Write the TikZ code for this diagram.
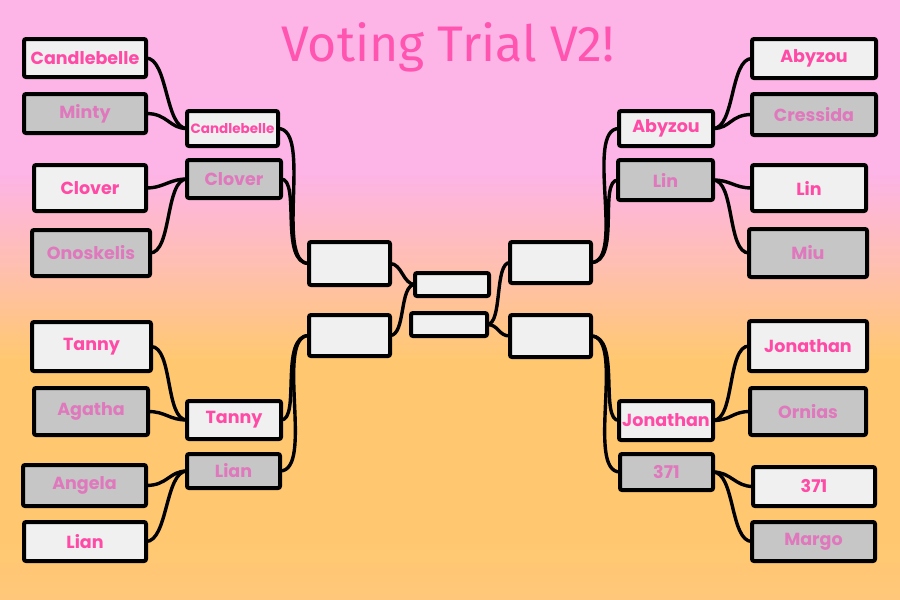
\documentclass[tikz,border=0pt]{standalone}
\usepackage{fontspec}
\setmainfont{Poppins}
\newfontfamily\titlefont{Fira Sans}
\definecolor{bgtop}{HTML}{FDB4E6}
\definecolor{bgmid}{HTML}{FFBFB0}
\definecolor{bgbot}{HTML}{FFC870}
\definecolor{winfill}{HTML}{F0F0F0}
\definecolor{losefill}{HTML}{C6C6C6}
\definecolor{wintext}{HTML}{FF4AA6}
\definecolor{losetext}{HTML}{DF78BC}
\definecolor{titlecol}{HTML}{FF55B0}
\begin{document}
\begin{tikzpicture}[x=1pt,y=-1pt,
  boxbase/.style={draw=black, line width=4pt, rounded corners=2pt, inner sep=0pt, outer sep=0pt, font=\bfseries\fontsize{17.5}{17.5}\selectfont},
  wbox/.style={boxbase, fill=winfill, text=wintext},
  lbox/.style={boxbase, fill=losefill, text=losetext},
  ebox/.style={boxbase, fill=winfill},
  small/.style={font=\bfseries\fontsize{13.5}{13.5}\selectfont},
  link/.style={draw=black, line width=3.4pt, line cap=round, line join=round},
  sz/.style n args={2}{minimum width=#1pt, minimum height=#2pt}
]
\useasboundingbox (0,0) rectangle (900,600);
\fill[bgtop] (0,0) rectangle (900,175);
\shade[top color=bgtop, bottom color=bgbot, middle color=bgmid] (0,174) rectangle (900,360);
\fill[bgbot] (0,359) rectangle (900,600);
\shade[top color=bgbot, bottom color=bgbot!85!bgmid] (0,540) rectangle (900,600);

\node[text=titlecol, draw=titlecol!85!black, line width=0.1pt, font=\titlefont\fontsize{50}{50}\selectfont, anchor=base, draw=none] (title) at (448,61) {Voting Trial V2!};

% left top
\node[wbox, sz={122}{38}] (c1) at (85,58) {Candlebelle};
\node[lbox, sz={122}{39}] (m1) at (85,113.5) {Minty};
\node[wbox, sz={112}{46}] (cl1) at (90,188) {Clover};
\node[lbox, sz={118}{46}] (on1) at (91,253) {Onoskelis};
\node[wbox, small, sz={91}{35}] (c2) at (232.5,128.5) {Candlebelle};
\node[lbox, sz={94}{38}] (cl2) at (234,179) {Clover};
% left bottom
\node[wbox, sz={119}{49}] (t1) at (91.5,346.5) {Tanny};
\node[lbox, sz={114}{47}] (ag1) at (91,411.5) {Agatha};
\node[lbox, sz={123}{41}] (an1) at (84.5,485.5) {Angela};
\node[wbox, sz={122}{39}] (li1) at (85,541.5) {Lian};
\node[wbox, sz={94}{38}] (t2) at (234,420) {Tanny};
\node[lbox, sz={93}{34}] (li2) at (233.5,471) {Lian};
% middle
\node[ebox, sz={81}{43}] (L3a) at (349.5,263.5) {};
\node[ebox, sz={81}{41}] (L3b) at (349.5,335.5) {};
\node[ebox, sz={74}{23}] (Fa) at (452,284.5) {};
\node[ebox, sz={76}{23}] (Fb) at (449,324.5) {};
\node[ebox, sz={81}{41}] (R3a) at (550.5,262.5) {};
\node[ebox, sz={81}{42}] (R3b) at (550.5,336) {};
% right top
\node[wbox, sz={94}{35}] (ab2) at (666,128.5) {Abyzou};
\node[lbox, sz={95}{40}] (lin2) at (665.5,180) {Lin};
\node[wbox, sz={124}{39}] (ab1) at (814,58.5) {Abyzou};
\node[lbox, sz={124}{41}] (cr1) at (814,114.5) {Cressida};
\node[wbox, sz={114}{46}] (lin1) at (809,188) {Lin};
\node[lbox, sz={118}{48}] (miu1) at (808,253) {Miu};
% right bottom
\node[wbox, sz={94}{39}] (jo2) at (666,420.5) {Jonathan};
\node[lbox, sz={93}{36}] (s2) at (666.5,472) {371};
\node[wbox, sz={118}{50}] (jo1) at (808,346) {Jonathan};
\node[lbox, sz={116}{47}] (or1) at (808,411.5) {Ornias};
\node[wbox, sz={122}{39}] (s1) at (814,486.5) {371};
\node[lbox, sz={123}{39}] (ma1) at (813.5,541.5) {Margo};

% connectors left
\begin{scope}[link]
\draw (c1.east) .. controls +(22,0) and +(-22,0) .. (c2.west);
\draw (m1.east) .. controls +(22,0) and +(-18,0) .. (c2.west);
\draw (cl1.east) .. controls +(18,0) and +(-18,0) .. (cl2.west);
\draw (on1.east) .. controls +(22,0) and +(-22,0) .. (cl2.west);
\draw (c2.east) .. controls +(35,0) and +(-35,0) .. (L3a.west);
\draw (cl2.east) .. controls +(20,0) and +(-30,0) .. (L3a.west);
\draw (t1.east) .. controls +(22,0) and +(-22,0) .. (t2.west);
\draw (ag1.east) .. controls +(18,0) and +(-18,0) .. (t2.west);
\draw (an1.east) .. controls +(22,0) and +(-18,0) .. (li2.west);
\draw (li1.east) .. controls +(22,0) and +(-22,0) .. (li2.west);
\draw (t2.east) .. controls +(20,0) and +(-30,0) .. (L3b.west);
\draw (li2.east) .. controls +(35,0) and +(-35,0) .. (L3b.west);
\draw (L3a.east) .. controls +(12,0) and +(-12,0) .. (Fa.west);
\draw (L3b.east) .. controls +(16,0) and +(-16,0) .. (Fa.west);
% right
\draw (Fb.east) .. controls +(16,0) and +(-16,0) .. (R3a.west);
\draw (Fb.east) .. controls +(12,0) and +(-12,0) .. (R3b.west);
\draw (R3a.east) .. controls +(35,0) and +(-35,0) .. (ab2.west);
\draw (R3a.east) .. controls +(30,0) and +(-20,0) .. (lin2.west);
\draw (R3b.east) .. controls +(30,0) and +(-20,0) .. (jo2.west);
\draw (R3b.east) .. controls +(35,0) and +(-35,0) .. (s2.west);
\draw (ab2.east) .. controls +(22,0) and +(-22,0) .. (ab1.west);
\draw (ab2.east) .. controls +(18,0) and +(-22,0) .. (cr1.west);
\draw (lin2.east) .. controls +(18,0) and +(-18,0) .. (lin1.west);
\draw (lin2.east) .. controls +(22,0) and +(-22,0) .. (miu1.west);
\draw (jo2.east) .. controls +(22,0) and +(-22,0) .. (jo1.west);
\draw (jo2.east) .. controls +(18,0) and +(-18,0) .. (or1.west);
\draw (s2.east) .. controls +(18,0) and +(-18,0) .. (s1.west);
\draw (s2.east) .. controls +(22,0) and +(-22,0) .. (ma1.west);
\end{scope}
\end{tikzpicture}
\end{document}
